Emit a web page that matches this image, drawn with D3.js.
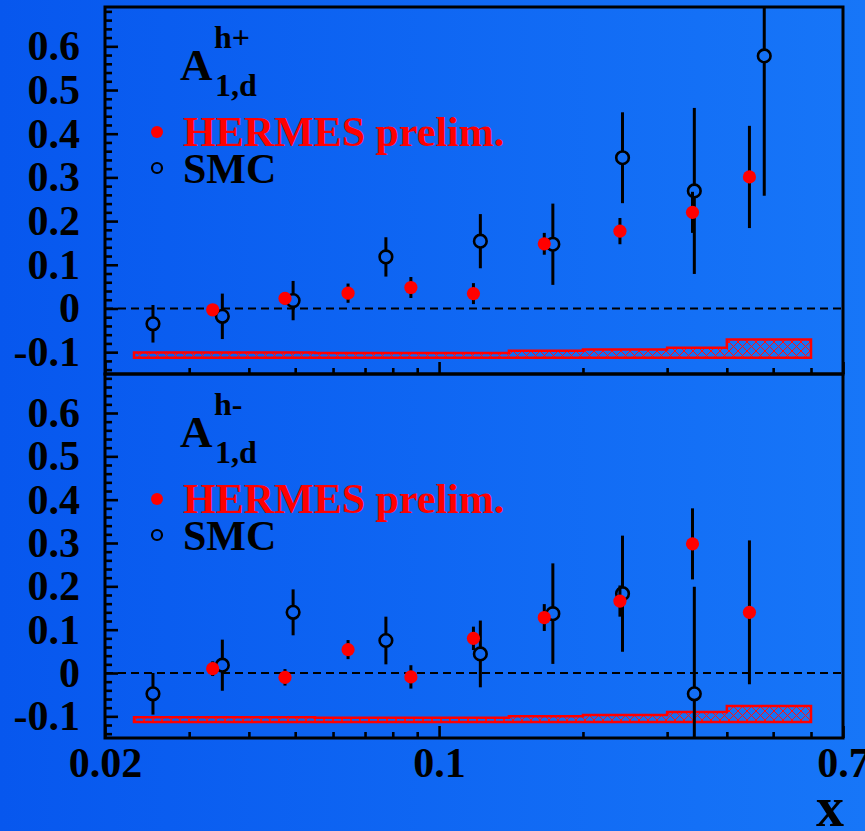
<!DOCTYPE html>
<html>
<head>
<meta charset="utf-8">
<script src="https://cdn.jsdelivr.net/npm/d3@7"></script>
<style>
  html, body { margin: 0; padding: 0; background: #0b5ff2; }
  svg { display: block; }
  text { font-family: "Liberation Serif", "Times New Roman", serif; font-weight: bold; }
</style>
</head>
<body>
<svg id="chart" width="865" height="831"></svg>
<script>
// x positions of the bins
const hermesX = [0.0336, 0.0476, 0.0645, 0.0873, 0.118, 0.166, 0.239, 0.339, 0.446];
const smcX = [0.0252, 0.0352, 0.0495, 0.0774, 0.122, 0.173, 0.242, 0.342, 0.479];

// A1d h+ asymmetries
const hermesPlus = [-0.003, 0.023, 0.035, 0.048, 0.034, 0.148, 0.177, 0.220, 0.301];
const hermesPlusErr = [0.012, 0.014, 0.022, 0.024, 0.024, 0.025, 0.030, 0.047, 0.117];
const smcPlus = [-0.035, -0.018, 0.018, 0.118, 0.154, 0.147, 0.345, 0.269, 0.578];
const smcPlusErr = [0.043, 0.052, 0.045, 0.045, 0.062, 0.093, 0.104, 0.190, 0.320];

// A1d h- asymmetries
const hermesMinus = [0.010, -0.010, 0.054, -0.009, 0.080, 0.128, 0.166, 0.298, 0.140];
const hermesMinusErr = [0.017, 0.019, 0.022, 0.027, 0.027, 0.031, 0.036, 0.082, 0.166];
const smcMinus = [-0.048, 0.018, 0.140, 0.075, 0.044, 0.137, 0.183, -0.048];
const smcMinusErr = [0.048, 0.059, 0.053, 0.055, 0.077, 0.116, 0.134, 0.247];

// systematic error band (HERMES)
const binEdges = [0.023, 0.04, 0.055, 0.075, 0.1, 0.14, 0.2, 0.3, 0.4, 0.6];
const systBase = -0.113;
const systPlus = [0.012, 0.012, 0.011, 0.011, 0.011, 0.016, 0.019, 0.023, 0.042];
const systMinus = [0.011, 0.011, 0.010, 0.010, 0.010, 0.013, 0.016, 0.023, 0.037];

// axis ticks
const yMajor = [-0.1, 0, 0.1, 0.2, 0.3, 0.4, 0.5, 0.6];
const yMinor = [-0.14, -0.12, -0.08, -0.06, -0.04, -0.02, 0.02, 0.04, 0.06, 0.08,
  0.12, 0.14, 0.16, 0.18, 0.22, 0.24, 0.26, 0.28, 0.32, 0.34, 0.36, 0.38,
  0.42, 0.44, 0.46, 0.48, 0.52, 0.54, 0.56, 0.58, 0.62, 0.64, 0.66, 0.68];
const xMinor = [0.03, 0.04, 0.05, 0.06, 0.07, 0.08, 0.09, 0.2, 0.3, 0.4, 0.5, 0.6];
const xLabels = [0.02, 0.1, 0.7];

const svg = d3.select("#chart");
const left = 105, right = 843;

// background
const defs = svg.append("defs");
const grad = defs.append("linearGradient").attr("id", "bg").attr("x1", 0).attr("x2", 1).attr("y1", 0).attr("y2", 0);
grad.append("stop").attr("offset", 0).attr("stop-color", "#0757ee");
grad.append("stop").attr("offset", 1).attr("stop-color", "#1776f8");
svg.append("rect").attr("width", 865).attr("height", 831).attr("fill", "url(#bg)");

const hatch = defs.append("pattern").attr("id", "hatch").attr("patternUnits", "userSpaceOnUse")
  .attr("width", 9).attr("height", 9);
hatch.append("path").attr("d", "M0,0 L9,9 M9,0 L0,9").attr("stroke", "#ff1010").attr("stroke-width", 1).attr("fill", "none");

const x = d3.scaleLog().domain([0.02, 0.7]).range([left, right]);

function drawPanel(top, bottom, id, sup, hermes, hermesErr, smc, smcErr, syst, showLabels) {
  const y = d3.scaleLinear().domain([-0.15, 0.69]).range([bottom, top]);
  const g = svg.append("g");

  defs.append("clipPath").attr("id", "clip" + id)
    .append("rect").attr("x", left).attr("y", top).attr("width", right - left).attr("height", bottom - top);

  // systematic band
  let d = "M" + x(binEdges[0]) + "," + y(systBase);
  syst.forEach((s, i) => {
    d += "L" + x(binEdges[i]) + "," + y(systBase + s) + "L" + x(binEdges[i + 1]) + "," + y(systBase + s);
  });
  d += "L" + x(binEdges[binEdges.length - 1]) + "," + y(systBase) + "Z";
  g.append("path").attr("d", d).attr("fill", "url(#hatch)")
    .attr("stroke", "#ff0000").attr("stroke-width", 2.5).attr("stroke-linejoin", "miter");

  // zero line
  g.append("line").attr("x1", left).attr("x2", right).attr("y1", y(0)).attr("y2", y(0))
    .attr("stroke", "#000").attr("stroke-width", 2).attr("stroke-dasharray", "8,5");

  const data = g.append("g").attr("clip-path", "url(#clip" + id + ")");
  const r = 6.3;

  // SMC: open circles, bar stops at the circle
  smc.forEach((v, i) => {
    const cx = x(smcX[i]), cy = y(v);
    data.append("line").attr("x1", cx).attr("x2", cx).attr("y1", y(v + smcErr[i])).attr("y2", cy - r)
      .attr("stroke", "#000").attr("stroke-width", 3);
    data.append("line").attr("x1", cx).attr("x2", cx).attr("y1", cy + r).attr("y2", y(v - smcErr[i]))
      .attr("stroke", "#000").attr("stroke-width", 3);
    data.append("circle").attr("cx", cx).attr("cy", cy).attr("r", r)
      .attr("fill", "none").attr("stroke", "#000").attr("stroke-width", 2.6);
  });

  // HERMES: red dots with black bars
  hermes.forEach((v, i) => {
    const cx = x(hermesX[i]);
    data.append("line").attr("x1", cx).attr("x2", cx).attr("y1", y(v + hermesErr[i])).attr("y2", y(v - hermesErr[i]))
      .attr("stroke", "#000").attr("stroke-width", 3);
  });
  data.selectAll(".hdot" + id).data(hermes).join("circle")
    .attr("cx", (v, i) => x(hermesX[i])).attr("cy", v => y(v)).attr("r", 6.6).attr("fill", "#ff0000");

  // axes
  const yAx = g.append("g").attr("transform", "translate(" + left + ",0)")
    .call(d3.axisLeft(y).tickValues(yMajor).tickSize(-13).tickPadding(25).tickFormat(d3.format(".1~f")));
  g.append("g").attr("transform", "translate(" + left + ",0)")
    .call(d3.axisLeft(y).tickValues(yMinor).tickSize(-7).tickFormat(""));
  g.append("g").attr("transform", "translate(0," + bottom + ")")
    .call(d3.axisBottom(x).tickValues(xMinor).tickSize(-6).tickFormat(""));
  g.append("g").attr("transform", "translate(0," + bottom + ")")
    .call(d3.axisBottom(x).tickValues(xLabels).tickSize(-12).tickPadding(9).tickFormat(d => showLabels ? String(d) : ""));

  g.selectAll(".domain").remove();
  g.selectAll(".tick line").attr("stroke", "#000").attr("stroke-width", 2.6);
  g.selectAll(".tick text").attr("fill", "#000").style("font-size", "42px")
    .style("font-family", "'Liberation Serif', 'Times New Roman', serif").style("font-weight", "bold");
  yAx.selectAll(".tick text").text(d => d === 0 ? "0" : d3.format(".1f")(d).replace("\u2212", "-"));

  // frame
  g.append("rect").attr("x", left).attr("y", top).attr("width", right - left).attr("height", bottom - top)
    .attr("fill", "none").attr("stroke", "#000").attr("stroke-width", 3);

  // title
  g.append("text").attr("x", 180).attr("y", top + 73).style("font-size", "45px").attr("fill", "#000").text("A");
  g.append("text").attr("x", 214).attr("y", top + 41).style("font-size", "32px").attr("fill", "#000").text(sup);
  g.append("text").attr("x", 215).attr("y", top + 89).style("font-size", "32px").attr("fill", "#000").text("1,d");

  // legend
  g.append("circle").attr("cx", 157).attr("cy", top + 125).attr("r", 6).attr("fill", "#ff0000");
  g.append("text").attr("x", 183).attr("y", top + 139).style("font-size", "42px").attr("fill", "#ff0000").text("HERMES prelim.");
  g.append("circle").attr("cx", 157).attr("cy", top + 161).attr("r", 5).attr("fill", "none")
    .attr("stroke", "#000").attr("stroke-width", 2.2);
  g.append("text").attr("x", 183).attr("y", top + 176).style("font-size", "42px").attr("fill", "#000").text("SMC");
}

drawPanel(7, 374, "p", "h+", hermesPlus, hermesPlusErr, smcPlus, smcPlusErr, systPlus, false);
drawPanel(374, 738, "m", "h-", hermesMinus, hermesMinusErr, smcMinus, smcMinusErr, systMinus, true);

svg.append("text").attr("x", 844).attr("y", 826).attr("text-anchor", "end")
  .style("font-size", "56px").attr("fill", "#000").text("x");
</script>
</body>
</html>
